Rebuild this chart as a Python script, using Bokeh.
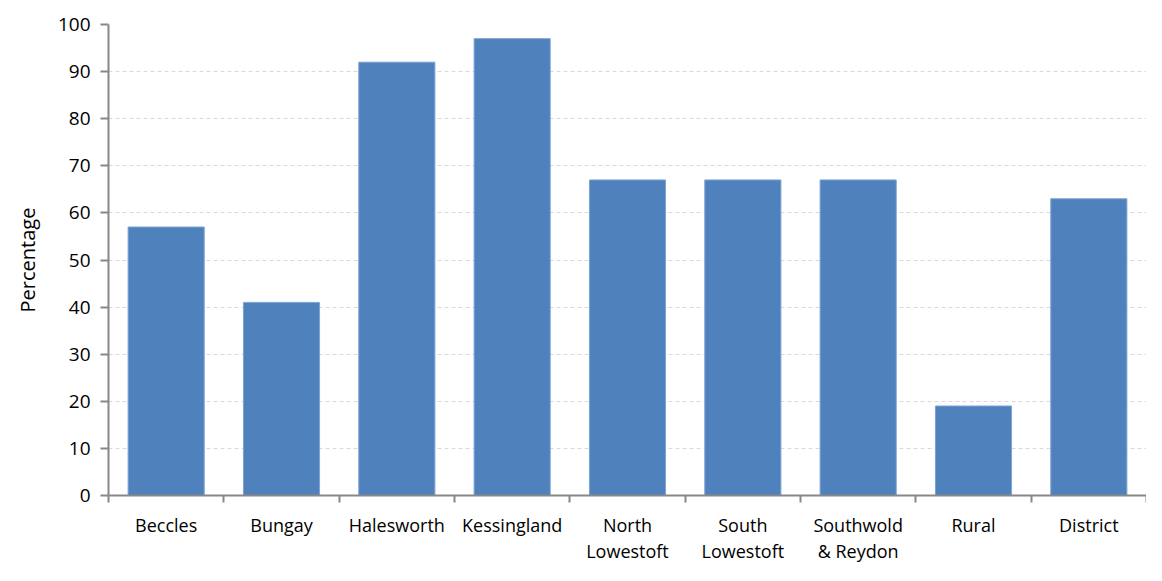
from bokeh.plotting import figure
from bokeh.models import FixedTicker, Range1d, ColumnDataSource
from bokeh.embed import file_html
from bokeh.resources import INLINE

categories = ["Beccles", "Bungay", "Halesworth", "Kessingland", "North\nLowestoft",
              "South\nLowestoft", "Southwold\n& Reydon", "Rural", "District"]
values = [57, 41, 92, 97, 67, 67, 67, 19, 63]
y_ticks = [0, 10, 20, 30, 40, 50, 60, 70, 80, 90, 100]

n = len(categories)
centers = [i + 0.5 for i in range(n)]
src = ColumnDataSource(dict(x=centers, top=values))

p = figure(width=1146, height=565, output_backend="svg", toolbar_location=None,
           x_range=Range1d(0, n), y_range=Range1d(0, 100))
p.min_border_left = 108
p.min_border_right = 0
p.min_border_top = 24
p.min_border_bottom = 0
p.outline_line_color = None
p.background_fill_color = "white"

p.vbar(x="x", top="top", width=0.66, bottom=0, source=src,
       fill_color="#4F81BD", line_color="#7fa3d2", line_width=1)

font = "Open Sans"
# x axis
p.xaxis.ticker = FixedTicker(ticks=centers, minor_ticks=list(range(n + 1)))
p.xaxis.major_label_overrides = {c: lab for c, lab in zip(centers, categories)}
p.xaxis.major_tick_out = 0
p.xaxis.major_tick_in = 0
p.xaxis.minor_tick_out = 7
p.xaxis.minor_tick_in = 0
p.xaxis.minor_tick_line_color = "#888888"
p.xaxis.minor_tick_line_width = 2
p.xaxis.axis_line_color = "#888888"
p.xaxis.axis_line_width = 2
p.xaxis.major_label_text_font = font
p.xaxis.major_label_text_font_size = "18px"
p.xaxis.major_label_text_line_height = 1.1
p.xaxis.major_label_text_color = "black"
p.xaxis.major_label_standoff = 10

# y axis
p.yaxis.ticker = FixedTicker(ticks=y_ticks)
p.yaxis.minor_tick_line_color = None
p.yaxis.major_tick_out = 8
p.yaxis.major_tick_in = 0
p.yaxis.major_tick_line_color = "#888888"
p.yaxis.major_tick_line_width = 2
p.yaxis.axis_line_color = "#888888"
p.yaxis.axis_line_width = 2
p.yaxis.major_label_text_font = font
p.yaxis.major_label_text_font_size = "19px"
p.yaxis.major_label_text_color = "black"
p.yaxis.major_label_standoff = 10
p.yaxis.axis_label = "Percentage"
p.yaxis.axis_label_text_font = font
p.yaxis.axis_label_text_font_style = "normal"
p.yaxis.axis_label_text_font_size = "20px"
p.yaxis.axis_label_text_color = "black"
p.yaxis.axis_label_standoff = 14

p.xgrid.grid_line_color = None
p.ygrid.ticker = FixedTicker(ticks=y_ticks[1:])
p.ygrid.grid_line_color = "#d9d9d9"
p.ygrid.grid_line_dash = "4 3"
p.ygrid.grid_line_width = 1

open("out.html", "w").write(file_html(p, INLINE))
